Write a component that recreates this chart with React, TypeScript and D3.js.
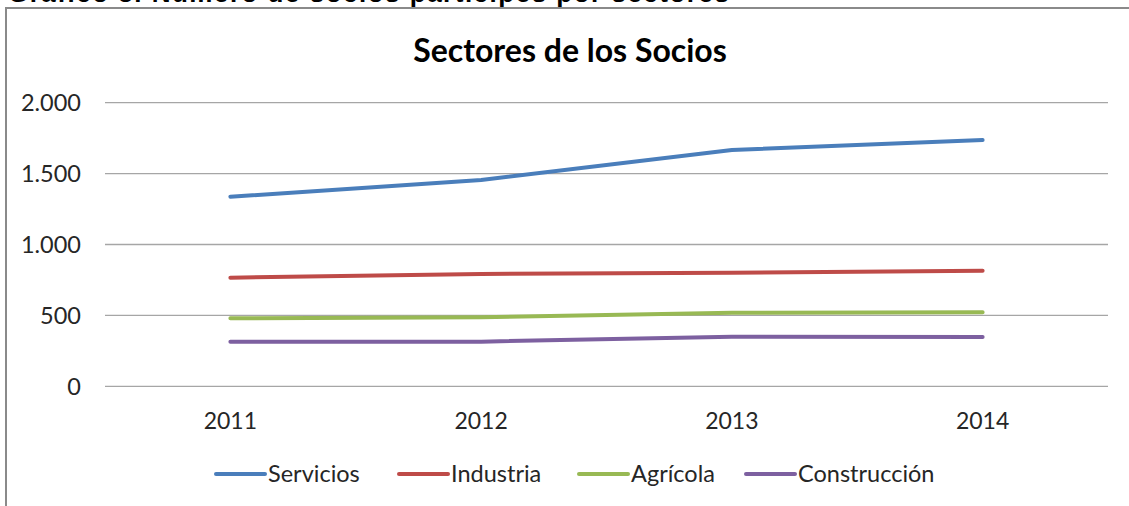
import React from 'react';
import * as d3 from 'd3';

// data
const years = ['2011', '2012', '2013', '2014'];
const servicios = [1337, 1455, 1666, 1737];
const industria = [766, 792, 801, 815];
const agricola = [480, 487, 519, 522];
const construccion = [315, 315, 350, 348];
const yTicks = [0, 500, 1000, 1500, 2000];

const seriesNames = ['Servicios', 'Industria', 'Agrícola', 'Construcción'];
const seriesValues = [servicios, industria, agricola, construccion];
const colors = ['#4A7EBB', '#BE4B48', '#98B954', '#7D60A0'];

const W = 1129;
const H = 506;
const FONT = 'Lato, "Open Sans", sans-serif';

const App = () => {
    const x = d3.scalePoint<string>().domain(years).range([105, 1108]).padding(0.5);
    const y = d3.scaleLinear().domain([0, 2000]).range([386.3, 102.7]);
    const fmt = (v: number) => d3.format(',')(v).replace(/,/g, '.');

    const line = d3.line<number>()
        .x((_, i) => x(years[i]) as number)
        .y(d => y(d));

    // legend item start positions (line sample then label)
    const legendX = [216, 399, 579, 746];

    return (
        <svg width={W} height={H} style={{ position: 'absolute', left: 0, top: 0, background: '#fff' }}>
            {/* page heading, cut off at the top of the capture */}
            <text x={8} y={1.5} fontFamily='"Liberation Sans", Arial, sans-serif' fontWeight="bold" fontSize={26}
                letterSpacing={1.5} fill="#000">
                Gráfico 3. Número de socios partícipes por sectores
            </text>

            {/* chart frame */}
            <path d={`M6,${H} L6,8 L${W},8`} fill="none" stroke="#8a8a8a" strokeWidth={2} />

            <text x={570} y={62} textAnchor="middle" fontFamily={FONT} fontWeight="bold" fontSize={32} fill="#000">
                Sectores de los Socios
            </text>

            {/* grid and y labels */}
            {yTicks.map(t => (
                <g key={t}>
                    <line x1={105} x2={1108} y1={y(t)} y2={y(t)} stroke="#a6a6a6" strokeWidth={1.3} />
                    <text x={81} y={y(t)} dy="0.35em" textAnchor="end" fontFamily={FONT} fontSize={23.5} fill="#262626">
                        {fmt(t)}
                    </text>
                </g>
            ))}

            {/* x labels */}
            {years.map(yr => (
                <text key={yr} x={x(yr)} y={429} textAnchor="middle" fontFamily={FONT} fontSize={23} fill="#262626">
                    {yr}
                </text>
            ))}

            {/* series */}
            {seriesValues.map((vals, i) => (
                <path key={seriesNames[i]} d={line(vals) || ''} fill="none" stroke={colors[i]}
                    strokeWidth={4} strokeLinecap="round" strokeLinejoin="round" />
            ))}

            {/* legend */}
            {seriesNames.map((name, i) => (
                <g key={name} transform={`translate(${legendX[i]},474)`}>
                    <line x1={0} x2={49} y1={0} y2={0} stroke={colors[i]} strokeWidth={4} strokeLinecap="round" />
                    <text x={52} y={0} dy="0.35em" fontFamily={FONT} fontSize={23.5} fill="#262626">{name}</text>
                </g>
            ))}
        </svg>
    );
};

export default App;
